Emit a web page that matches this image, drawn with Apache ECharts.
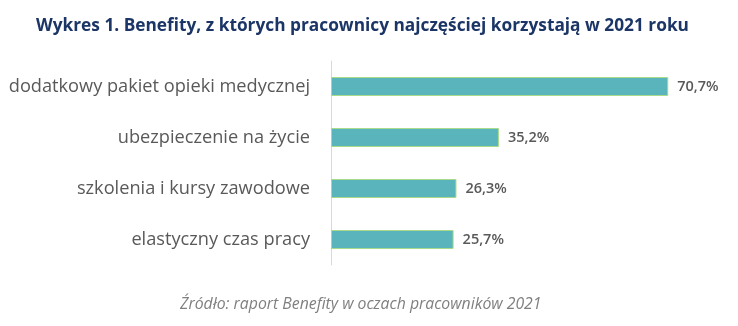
<!DOCTYPE html>
<html>
<head>
<meta charset="utf-8">
<script src="https://cdn.jsdelivr.net/npm/echarts@6/dist/echarts.min.js"></script>
<style>
  html, body { margin: 0; padding: 0; background: #ffffff; }
  #chart { width: 738px; height: 326px; }
</style>
</head>
<body>
<div id="chart"></div>
<script>
// Benefit categories (top to bottom) and share of employees using them, in %
const categories = [
  'dodatkowy pakiet opieki medycznej',
  'ubezpieczenie na życie',
  'szkolenia i kursy zawodowe',
  'elastyczny czas pracy'
];
const values = [70.7, 35.2, 26.3, 25.7];

const titleText = 'Wykres 1. Benefity, z których pracownicy najczęściej korzystają w 2021 roku';
const sourceText = 'Źródło: raport Benefity w oczach pracowników 2021';

const chart = echarts.init(document.getElementById('chart'));

chart.setOption({
  backgroundColor: '#ffffff',
  animation: false,
  title: [
    {
      text: titleText,
      left: 31,
      top: 13,
      textStyle: { fontFamily: 'Open Sans', fontSize: 17.3, fontWeight: 'bold', color: '#1B3566' }
    },
    {
      text: sourceText,
      left: 175,
      top: 291,
      textStyle: { fontFamily: 'Open Sans', fontSize: 15.8, fontStyle: 'italic', fontWeight: 'normal', color: '#7f7f7f' }
    }
  ],
  grid: { left: 331, top: 61, width: 381.6, height: 204, containLabel: false },
  xAxis: {
    type: 'value',
    min: 0,
    max: 80,
    show: false
  },
  yAxis: {
    type: 'category',
    inverse: true,
    data: categories,
    axisLine: { show: true, lineStyle: { color: '#d9d9d9', width: 1 } },
    axisTick: { show: false },
    axisLabel: {
      margin: 21,
      fontFamily: 'Open Sans',
      fontSize: 18.2,
      color: '#595959'
    }
  },
  series: [{
    type: 'bar',
    data: values,
    barWidth: 19,
    itemStyle: { color: '#5AB4BC', borderColor: '#A9D98A', borderWidth: 1 },
    label: {
      show: true,
      position: 'right',
      distance: 9,
      fontFamily: 'Open Sans',
      fontSize: 14.5,
      fontWeight: 600,
      color: '#595959',
      formatter: p => p.value.toFixed(1).replace('.', ',') + '%'
    }
  }]
});
</script>
</body>
</html>
